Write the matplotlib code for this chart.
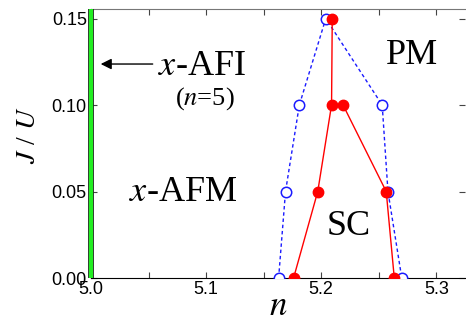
import matplotlib; matplotlib.use("Agg")
import matplotlib.pyplot as plt
import matplotlib.patheffects as pe
from matplotlib.ticker import MultipleLocator

plt.rcParams.update({"font.family": "Liberation Sans", "mathtext.fontset": "stix",
                     "font.size": 13})
SERIF = "Liberation Serif"

# open blue circles (dashed loop)
blue_n = [5.163, 5.169, 5.181, 5.204, 5.253, 5.258, 5.270]
blue_j = [0.00, 0.05, 0.10, 0.15, 0.10, 0.05, 0.00]
# filled red circles, two branches
red_left_n = [5.176, 5.197, 5.209, 5.2096]
red_left_j = [0.00, 0.05, 0.10, 0.15]
red_right_n = [5.219, 5.2565, 5.2635]
red_right_j = [0.10, 0.05, 0.00]

fig = plt.figure(figsize=(4.66, 3.22), dpi=100)
ax = fig.add_axes([0.1953, 0.1366, 0.8027, 0.8354])

ax.plot(blue_n, blue_j, ls=(0, (2.5, 2)), color="#1a1aff", lw=1, marker="o", ms=7.5,
        mfc="white", mec="#1a1aff", mew=1.1, zorder=3)
ax.plot(red_left_n, red_left_j, "-", color="#ff0000", lw=1, marker="o", ms=7.5,
        mfc="#ff0000", mec="#ff0000", zorder=4)
ax.plot(red_right_n, red_right_j, "-", color="#ff0000", lw=1, marker="o", ms=7.5,
        mfc="#ff0000", mec="#ff0000", zorder=4)

ax.axvline(5.0, color="#22ee22", lw=3.0, zorder=5, clip_on=False, solid_capstyle="butt",
           path_effects=[pe.Stroke(linewidth=4.2, foreground="#222222", capstyle="butt"),
                         pe.Normal()])

ax.set_xlim(5.0, 5.325)
ax.set_ylim(0.0, 0.1555)
ax.xaxis.set_major_locator(MultipleLocator(0.1))
ax.xaxis.set_minor_locator(MultipleLocator(0.05))
ax.yaxis.set_major_locator(MultipleLocator(0.05))
ax.xaxis.set_major_formatter(plt.FuncFormatter(lambda v, p: "%.1f" % v))
ax.yaxis.set_major_formatter(plt.FuncFormatter(lambda v, p: "%.2f" % v))
ax.tick_params(which="both", direction="in", top=True, right=True, length=4, width=0.8,
               color="#444444", labelsize=13, pad=2)
ax.tick_params(axis="y", pad=3)
ax.spines["top"].set_color("#777777")
ax.spines["right"].set_visible(False)

ax.set_xlabel("$n$", fontsize=25, labelpad=-6)
ax.set_ylabel("$J$ / $U$", fontsize=20, family=SERIF)
ax.yaxis.set_label_coords(-0.135, 0.53)

ax.annotate("", xy=(5.006, 0.1237), xytext=(5.056, 0.1237),
            arrowprops=dict(arrowstyle="-|>", color="black", lw=1.0, mutation_scale=16))
ax.text(5.0585, 0.1225, "$x$-AFI", family=SERIF, fontsize=26, ha="left", va="center")
ax.text(5.099, 0.1035, "($n$=5)", family=SERIF, fontsize=19, ha="center", va="center")
ax.text(5.279, 0.1285, "PM", family=SERIF, fontsize=26, ha="center", va="center")
ax.text(5.080, 0.0495, "$x$-AFM", family=SERIF, fontsize=26, ha="center", va="center")
ax.text(5.2243, 0.0295, "SC", family=SERIF, fontsize=26, ha="center", va="center")

fig.savefig("out.png", dpi=100)
